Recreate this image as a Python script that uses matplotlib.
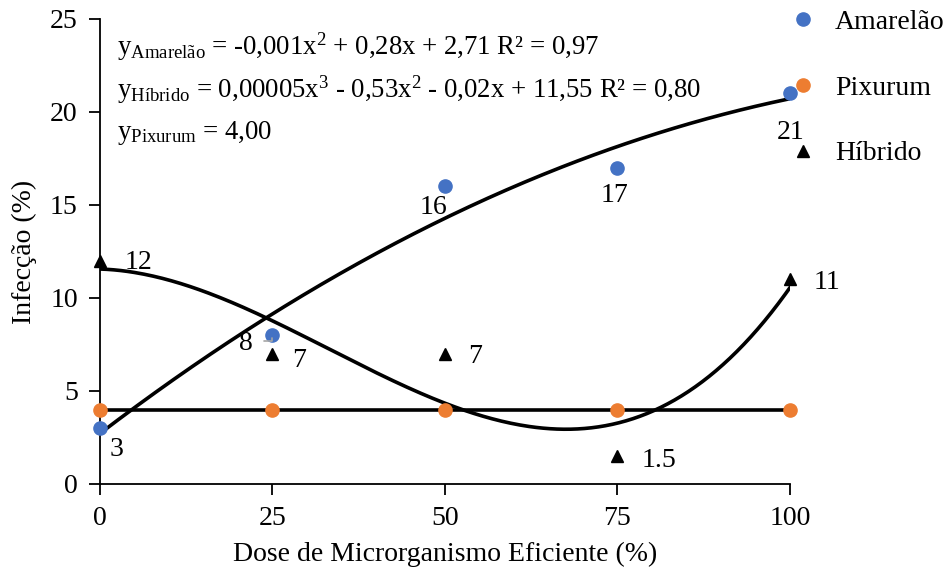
import numpy as np
import matplotlib
matplotlib.use("Agg")
import matplotlib.pyplot as plt

plt.rcParams['font.family'] = ['Liberation Serif', 'DejaVu Serif']
plt.rcParams['mathtext.fontset'] = 'custom'
plt.rcParams['mathtext.rm'] = 'Liberation Serif'
plt.rcParams['mathtext.it'] = 'Liberation Serif:italic'

doses = [0, 25, 50, 75, 100]
amarelao = [3, 8, 16, 17, 21]
pixurum = [4, 4, 4, 4, 4]
hibrido = [12, 7, 7, 1.5, 11]
amarelao_labels = ['3', '8', '16', '17', '21']
hibrido_labels = ['12', '7', '7', '1.5', '11']
eq_lines = [
    r'y$_{\mathrm{Amarelão}}$ = -0,001x$^{2}$ + 0,28x + 2,71 R² = 0,97',
    r'y$_{\mathrm{Híbrido}}$ = 0,00005x$^{3}$ - 0,53x$^{2}$ - 0,02x + 11,55 R² = 0,80',
    r'y$_{\mathrm{Pixurum}}$ = 4,00',
]

blue = '#4472C4'
orange = '#ED7D31'

fig = plt.figure(figsize=(9.53, 5.75), dpi=100)
ax = fig.add_axes([0.1049, 0.1583, 0.724, 0.8087])

x = np.array(doses, dtype=float)
xs = np.linspace(0, 100, 300)
pa = np.polyfit(x, amarelao, 2)
ph = np.polyfit(x, hibrido, 3)
pp = np.polyfit(x, pixurum, 0)

ax.plot(xs, np.polyval(pa, xs), color='black', lw=2.6, zorder=2)
ax.plot(xs, np.polyval(ph, xs), color='black', lw=2.6, zorder=2)
ax.plot(xs, np.polyval(pp, xs), color='black', lw=2.6, zorder=2)

ax.plot(doses, amarelao, 'o', color=blue, ms=9.5, ls='none', label='Amarelão', zorder=3, clip_on=False)
ax.plot(doses, pixurum, 'o', color=orange, ms=9.5, ls='none', label='Pixurum', zorder=3, clip_on=False)
ax.plot(doses, hibrido, '^', color='black', ms=9, ls='none', label='Híbrido', zorder=3, clip_on=False)

fs = 20
# data labels (offsets in points)
a_off = [(12, -15), (-19, -6), (-8, -15), (-2, -20), (0.5, -28)]
for xi, yi, lab, (dx, dy) in zip(doses, amarelao, amarelao_labels, a_off):
    ax.annotate(lab, (xi, yi), xytext=(dx, dy), textcoords='offset points',
                ha='center', va='center', fontsize=fs)
h_off = [(28, -1), (19, -5), (22, -2), (30, -3), (27, -2)]
for xi, yi, lab, (dx, dy) in zip(doses, hibrido, hibrido_labels, h_off):
    ax.annotate(lab, (xi, yi), xytext=(dx, dy), textcoords='offset points',
                ha='center', va='center', fontsize=fs)

# leader line for the "8" label
ax.annotate('', (doses[1], amarelao[1]), xytext=(-8, -4), textcoords='offset points',
            arrowprops=dict(arrowstyle='-', color='#A6A6A6', lw=1.2,
                            connectionstyle='angle,angleA=0,angleB=90,rad=0'))

for i, t in enumerate(eq_lines):
    ax.text(0.025, 0.94 - i * 0.093, t, transform=ax.transAxes, fontsize=19.3,
            ha='left', va='center')

ax.set_xlim(0, 100)
ax.set_ylim(0, 25)
ax.set_xticks(doses)
ax.set_yticks([0, 5, 10, 15, 20, 25])
ax.tick_params(axis='both', labelsize=fs, direction='out', length=8, width=1.3, pad=8)
for s in ['top', 'right']:
    ax.spines[s].set_visible(False)
for s in ['left', 'bottom']:
    ax.spines[s].set_linewidth(1.3)

ax.set_xlabel('Dose de Microrganismo Eficiente (%)', fontsize=fs, labelpad=8)
ax.set_ylabel('Infecção (%)', fontsize=fs, labelpad=9)

ax.legend(loc='upper left', bbox_to_anchor=(0.971, 1.062), frameon=False, fontsize=fs,
          labelspacing=1.45, handlelength=1.0, handletextpad=0.65, borderaxespad=0.3)

fig.savefig('out.png', dpi=100)
